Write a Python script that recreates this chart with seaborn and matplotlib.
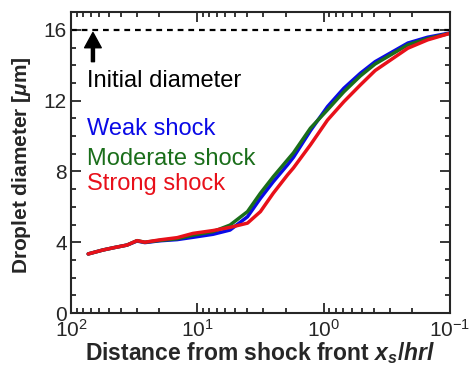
import matplotlib
matplotlib.use("Agg")
import matplotlib.pyplot as plt
import matplotlib.ticker as mt
import seaborn as sns
import pandas as pd

sns.set_style("ticks")
plt.rcParams["font.family"] = ["Liberation Sans", "DejaVu Sans"]
plt.rcParams["mathtext.fontset"] = "custom"
plt.rcParams["mathtext.rm"] = "Liberation Sans"
plt.rcParams["mathtext.it"] = "Liberation Sans:italic:bold"
plt.rcParams["mathtext.bf"] = "Liberation Sans:bold"

# distance from shock front (x_s / hrl), shared by all runs
distance = [73, 56, 46, 36, 30, 26, 20, 14.4, 10.8, 7.5, 5.5, 4.0, 3.16, 2.5,
            1.93, 1.73, 1.27, 0.93, 0.69, 0.51, 0.39, 0.215, 0.15, 0.1]
weak = [3.34, 3.56, 3.69, 3.84, 4.07, 3.98, 4.08, 4.15, 4.28, 4.45, 4.69, 5.44,
        6.48, 7.42, 8.37, 8.8, 10.3, 11.66, 12.7, 13.55, 14.2, 15.25, 15.58, 15.82]
moderate = [3.34, 3.56, 3.69, 3.84, 4.09, 4.0, 4.1, 4.2, 4.4, 4.6, 4.97, 5.73,
            6.77, 7.7, 8.65, 9.05, 10.44, 11.48, 12.5, 13.4, 14.07, 15.15, 15.5, 15.8]
strong = [3.34, 3.56, 3.69, 3.84, 4.09, 4.0, 4.13, 4.26, 4.5, 4.66, 4.84, 5.08,
          5.73, 6.77, 7.8, 8.2, 9.5, 10.9, 11.94, 12.89, 13.7, 14.96, 15.43, 15.8]
labels = ["Weak shock", "Moderate shock", "Strong shock"]
colors = ["#0a0ae6", "#1a6e1a", "#e8101a"]
initial_d = 16

df = pd.concat([
    pd.DataFrame({"x": distance, "d": ys, "shock": lab})
    for ys, lab in zip([weak, moderate, strong], labels)
])

fig = plt.figure(figsize=(4.7, 3.67), dpi=100)
ax = fig.add_axes([0.151, 0.147, 0.806, 0.82])

sns.lineplot(data=df, x="x", y="d", hue="shock", palette=colors,
             estimator=None, lw=2.5, legend=False, ax=ax)
ax.axhline(initial_d, color="black", lw=1.6, dashes=(2.6, 2.2), zorder=1)

ax.set_xscale("log")
ax.set_xlim(100, 0.1)
ax.set_ylim(0, 17)
ax.yaxis.set_major_locator(mt.FixedLocator([0, 4, 8, 12, 16]))
ax.yaxis.set_minor_locator(mt.MultipleLocator(1))
ax.tick_params(which="both", direction="in", top=True, right=True, width=1.3)
ax.tick_params(which="major", length=7, labelsize=15)
ax.tick_params(which="minor", length=3.5)
ax.tick_params(axis="x", which="major", pad=4)
ax.tick_params(axis="y", which="major", pad=3)
for s in ax.spines.values():
    s.set_linewidth(1.5)

ax.set_xlabel("Distance from shock front $x_s$/$hrl$", fontsize=16.5,
              fontweight="bold", labelpad=0)
ax.set_ylabel("Droplet diameter [$\\mu$m]", fontsize=15, fontweight="bold")
ax.yaxis.set_label_coords(-0.1, 0.49)

ax.annotate("", xy=(67, 15.85), xytext=(67, 14.2),
            arrowprops=dict(facecolor="black", edgecolor="black", width=2.2,
                            headwidth=12, headlength=11, shrink=0))
ax.text(74.6, 12.78, "Initial diameter", fontsize=17, color="black", va="baseline")
for lab, c, yb in zip(labels, colors, [10.06, 8.37, 6.95]):
    ax.text(74.6, yb, lab, fontsize=17, color=c, va="baseline")

fig.savefig("out.png", dpi=100)
